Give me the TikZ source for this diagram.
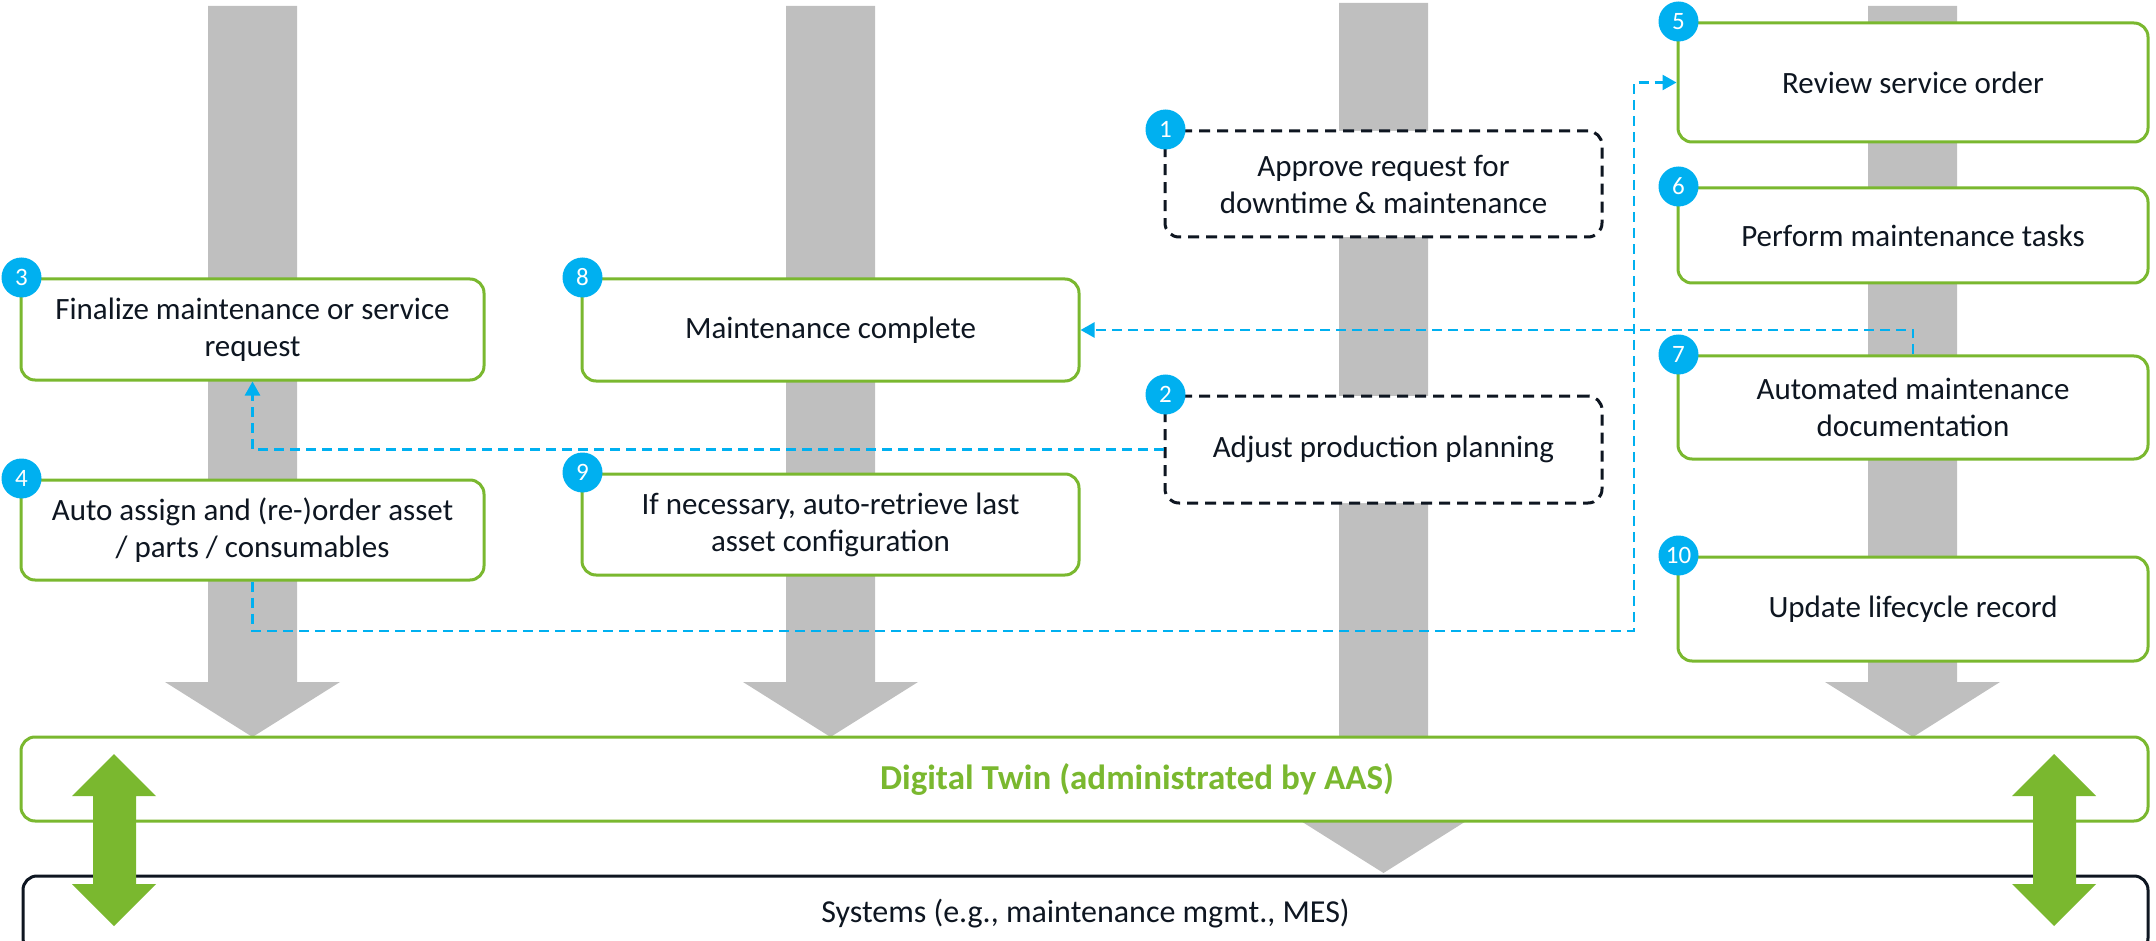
\documentclass[tikz,border=0pt]{standalone}
\usepackage{fontspec}
\setmainfont{Carlito}
\usepackage{tikz}
\usetikzlibrary{arrows.meta}

\definecolor{twingreen}{RGB}{122,184,47}
\definecolor{flowcyan}{RGB}{0,176,240}
\definecolor{lanegray}{RGB}{191,191,191}
\definecolor{inkblue}{RGB}{14,22,33}

\begin{document}
\begin{tikzpicture}[x=1pt,y=-1pt,
    lane/.style={fill=lanegray},
    stepbox/.style={draw=twingreen,line width=3pt,rounded corners=14pt,fill=white,
      text=inkblue,align=center,inner sep=0pt,font=\fontsize{31}{37}\selectfont},
    planbox/.style={stepbox,draw=inkblue,dash pattern=on 11pt off 7pt},
    badge/.style={circle,fill=flowcyan,text=white,minimum size=40pt,inner sep=0pt,
      font=\fontsize{25}{25}\selectfont},
    flow/.style={draw=flowcyan,line width=2.5pt,dash pattern=on 10pt off 6pt,
      -{Triangle[length=14pt,width=15pt]}},
    twinarrow/.style={fill=twingreen}]

      \useasboundingbox (0,0) rectangle (2156,941);

      \fill [lane] (208,6) -- (297,6) -- (297,682) -- (340,682) -- (252.5,737)
        -- (165,682) -- (208,682) -- cycle;
      \fill [lane] (786,6) -- (875,6) -- (875,682) -- (918,682) -- (830.5,737)
        -- (743,682) -- (786,682) -- cycle;
      \fill [lane] (1339,3) -- (1428,3) -- (1428,818) -- (1471,818) -- (1383.5,873)
        -- (1296,818) -- (1339,818) -- cycle;
      \fill [lane] (1868,6) -- (1957,6) -- (1957,682) -- (2000,682) -- (1913,737)
        -- (1825,682) -- (1868,682) -- cycle;

      \node [planbox,minimum width=437pt,minimum height=106pt] (n1) at (1383.5,184)
        {Approve request for\\downtime \& maintenance};
      \node [planbox,minimum width=437pt,minimum height=107pt] (n2) at (1383.5,449.5)
        {Adjust production planning};
      \node [stepbox,minimum width=463pt,minimum height=101pt] (n3) at (252.5,329.5)
        {Finalize maintenance or service\\request};
      \node [stepbox,minimum width=463pt,minimum height=100pt] (n4) at (252.5,530)
        {Auto assign and (re-)order asset\\/ parts / consumables};
      \node [stepbox,minimum width=470pt,minimum height=119pt] (n5) at (1913,82.5)
        {Review service order};
      \node [stepbox,minimum width=470pt,minimum height=95pt] (n6) at (1913,235.5)
        {Perform maintenance tasks};
      \node [stepbox,minimum width=470pt,minimum height=103pt] (n7) at (1913,407.5)
        {Automated maintenance\\documentation};
      \node [stepbox,minimum width=497pt,minimum height=102pt] (n8) at (830.5,330)
        {Maintenance complete};
      \node [stepbox,minimum width=497pt,minimum height=101pt] (n9) at (830.5,524.5)
        {If necessary, auto-retrieve last\\asset configuration};
      \node [stepbox,minimum width=470pt,minimum height=104pt] (n10) at (1913,609)
        {Update lifecycle record};

      \coordinate (turn) at (1634,631);
      \draw [flow] (n2.west) -| (n3.south);
      \draw [flow] (n4.south) |- (turn) |- (n5.west);
      \draw [flow] (n7.north) |- (n8.east);

      \node [badge] (b1) at ([xshift=2pt]n1.north west) {1};
      \node [badge] (b2) at ([xshift=2pt]n2.north west) {2};
      \node [badge] (b3) at ([xshift=2pt]n3.north west) {3};
      \node [badge] (b4) at ([xshift=2pt]n4.north west) {4};
      \node [badge] (b5) at ([xshift=2pt]n5.north west) {5};
      \node [badge] (b6) at ([xshift=2pt]n6.north west) {6};
      \node [badge] (b7) at ([xshift=2pt]n7.north west) {7};
      \node [badge] (b8) at ([xshift=2pt]n8.north west) {8};
      \node [badge] (b9) at ([xshift=2pt]n9.north west) {9};
      \node [badge] (b10) at ([xshift=2pt]n10.north west) {10};

      \node [stepbox,minimum width=2127pt,minimum height=84pt] (twin) at (1084.5,779) {};
      \node [text=twingreen,font=\bfseries\fontsize{35}{42}\selectfont] (twintext)
        at (1137,779) {Digital Twin (administrated by AAS)};
      \node [stepbox,draw=inkblue,minimum width=2125pt,minimum height=76pt,
        font=\fontsize{32}{38}\selectfont] (sys) at (1085.5,914)
        {Systems (e.g., maintenance mgmt., MES)};

      \fill [twinarrow] (114,754) -- (156,796) -- (136,796) -- (136,884) -- (156,884)
        -- (114,926) -- (72,884) -- (93,884) -- (93,796) -- (72,796) -- cycle;
      \fill [twinarrow] (2054,754) -- (2096,796) -- (2076,796) -- (2076,884) -- (2096,884)
        -- (2054,926) -- (2012,884) -- (2033,884) -- (2033,796) -- (2012,796) -- cycle;

    \end{tikzpicture}
\end{document}
